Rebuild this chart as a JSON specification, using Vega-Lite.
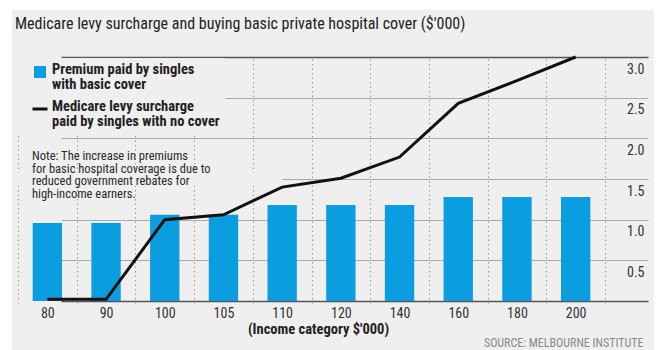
{
  "$schema": "https://vega.github.io/schema/vega-lite/v6.json",
  "width": 642,
  "height": 340,
  "autosize": {"type": "none"},
  "padding": {"left": 12, "top": 10, "right": 6, "bottom": 0},
  "background": "#ffffff",
  "title": {
    "text": "Medicare levy surcharge and buying basic private hospital cover ($'000)",
    "anchor": "start",
    "font": "Roboto Condensed",
    "fontSize": 16,
    "fontWeight": "normal",
    "color": "#222222",
    "baseline": "alphabetic",
    "offset": -35,
    "dx": 3
  },
  "config": {
    "font": "Roboto Condensed",
    "view": {"stroke": null, "fill": "#efefef"}
  },
  "layer": [
    {
      "data": {
        "values": [
          {"income": 80, "premium": 0.96, "surcharge": 0.02},
          {"income": 90, "premium": 0.96, "surcharge": 0.02},
          {"income": 100, "premium": 1.06, "surcharge": 1.0},
          {"income": 105, "premium": 1.06, "surcharge": 1.06},
          {"income": 110, "premium": 1.18, "surcharge": 1.4},
          {"income": 120, "premium": 1.18, "surcharge": 1.51},
          {"income": 140, "premium": 1.18, "surcharge": 1.77},
          {"income": 160, "premium": 1.28, "surcharge": 2.43},
          {"income": 180, "premium": 1.28, "surcharge": 2.71},
          {"income": 200, "premium": 1.28, "surcharge": 3.0}
        ]
      },
      "transform": [
        {"fold": ["premium", "surcharge"], "as": ["series", "value"]}
      ],
      "encoding": {
        "x": {
          "field": "income",
          "type": "ordinal",
          "scale": {"range": [6, 593], "paddingInner": 0, "paddingOuter": 0},
          "axis": {
            "offset": -49,
            "title": "(Income category $'000)",
            "titleFontWeight": "bold",
            "titleFontSize": 14.5,
            "titleColor": "#222222",
            "titlePadding": 2,
            "titleX": 306,
            "labelFontSize": 14,
            "labelColor": "#333333",
            "labelPadding": 5,
            "labelAngle": 0,
            "ticks": false,
            "domain": false,
            "grid": true,
            "tickBand": "extent",
            "gridDash": [1.5, 3],
            "gridColor": "#999999",
            "gridWidth": 1
          }
        },
        "y": {
          "field": "value",
          "type": "quantitative",
          "scale": {"domain": [0, 3], "nice": false, "range": [291, 47]},
          "axis": {
            "orient": "right",
            "values": [0, 0.5, 1, 1.5, 2, 2.5, 3],
            "format": ".1f",
            "labelExpr": "datum.value == 0 ? '' : datum.label",
            "labelAlign": "right",
            "labelPadding": -10,
            "labelBaseline": "middle",
            "labelOffset": 12,
            "labelFontSize": 14,
            "labelColor": "#333333",
            "ticks": false,
            "domain": false,
            "gridColor": {"condition": {"test": "datum.value == 0 || datum.value == 3", "value": "#555555"}, "value": "#aaaaaa"},
            "gridWidth": {"condition": {"test": "datum.value == 0 || datum.value == 3", "value": 1.5}, "value": 1},
            "title": "SOURCE: MELBOURNE INSTITUTE",
            "titleAngle": 0,
            "titleAlign": "right",
            "titleBaseline": "middle",
            "titleX": -11,
            "titleY": 332,
            "titleFont": "Roboto Condensed",
            "titleFontSize": 12,
            "titleFontWeight": "normal",
            "titleColor": "#8a8a8a"
          }
        }
      },
      "layer": [
        {
          "transform": [{"filter": "datum.series == 'premium'"}],
          "mark": {"type": "bar", "width": {"band": 0.5}},
          "encoding": {
            "color": {
              "field": "series",
              "type": "nominal",
              "scale": {"domain": ["premium", "surcharge"], "range": ["#0a9ee0", "#111111"]},
              "legend": {
                "orient": "none",
                "legendX": 6,
                "legendY": 48,
                "padding": 5,
                "symbolOffset": 8,
                "labelOffset": 3,
                "fillColor": "#efefef",
                "title": null,
                "labelExpr": "datum.value == 'premium' ? ['Premium paid by singles', 'with basic cover'] : ['Medicare levy surcharge', 'paid by singles with no cover']",
                "labelFontSize": 14.5,
                "labelFontWeight": "bold",
                "labelColor": "#222222",
                "labelLimit": 0,
                "labelBaseline": "top",
                "rowPadding": 8,
                "encode": {
                  "symbols": {
                    "update": {
                      "shape": {"signal": "datum.value == 'premium' ? 'square' : 'stroke'"},
                      "size": {"signal": "datum.value == 'premium' ? 81 : 225"},
                      "fill": {"signal": "datum.value == 'premium' ? '#0a9ee0' : 'transparent'"},
                      "stroke": {"signal": "datum.value == 'premium' ? 'transparent' : '#111111'"},
                      "strokeWidth": {"value": 3},
                      "opacity": {"value": 1}
                    }
                  },
                  "labels": {
                    "update": {
                      "dy": {"value": -9},
                      "lineHeight": {"value": 14.5}
                    }
                  }
                }
              }
            }
          }
        },
        {
          "transform": [{"filter": "datum.series == 'surcharge'"}],
          "mark": {"type": "line", "strokeWidth": 3, "strokeJoin": "miter"},
          "encoding": {
            "color": {"field": "series", "type": "nominal"}
          }
        }
      ]
    },
    {
      "data": {"values": [{"note": "x"}]},
      "mark": {"type": "rect", "color": "#efefef"},
      "encoding": {
        "x": {"datum": 80, "type": "ordinal", "bandPosition": 0},
        "x2": {"datum": 110},
        "y": {"datum": 1.42, "type": "quantitative"},
        "y2": {"datum": 1.58}
      }
    },
    {
      "data": {"values": [{"note": "x"}]},
      "mark": {
        "type": "text",
        "align": "left",
        "baseline": "top",
        "fontSize": 12.5,
        "lineHeight": 12.5,
        "color": "#2a2a2a",
        "dx": 14,
        "dy": 8
      },
      "encoding": {
        "x": {"datum": 80, "type": "ordinal", "bandPosition": 0},
        "y": {"datum": 1.95, "type": "quantitative"},
        "text": {"value": ["Note: The increase in premiums", "for basic hospital coverage is due to", "reduced government rebates for", "high-income earners."]}
      }
    }
  ]
}
